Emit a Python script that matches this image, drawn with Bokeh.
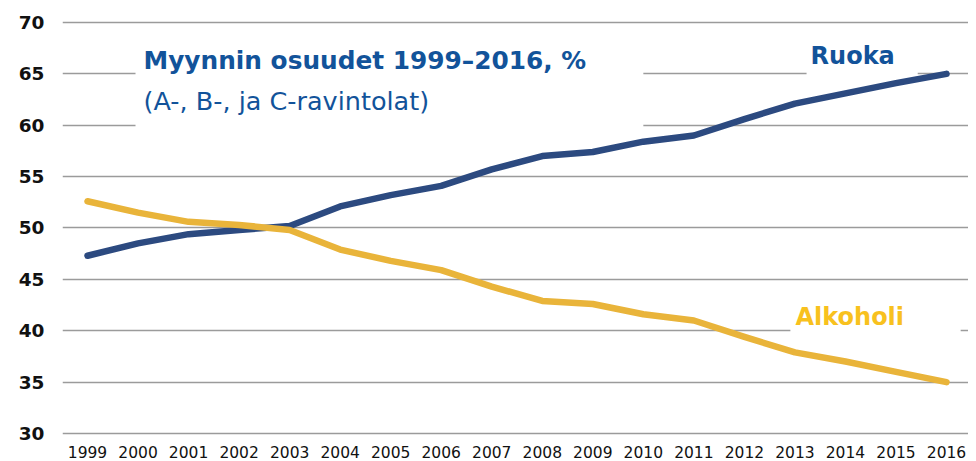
from bokeh.plotting import figure
from bokeh.models import Label, BoxAnnotation, FixedTicker, Range1d
from bokeh.embed import file_html
from bokeh.resources import INLINE

years = list(range(1999, 2017))
ruoka = [47.3, 48.5, 49.4, 49.8, 50.2, 52.1, 53.2, 54.1, 55.7, 57.0, 57.4, 58.4, 59.0, 60.6, 62.1, 63.1, 64.1, 65.0]
alkoholi = [52.6, 51.5, 50.6, 50.3, 49.8, 47.9, 46.8, 45.9, 44.3, 42.9, 42.6, 41.6, 41.0, 39.4, 37.9, 37.0, 36.0, 35.0]
y_ticks = [30, 35, 40, 45, 50, 55, 60, 65, 70]

title_text = "Myynnin osuudet 1999–2016, %"
subtitle_text = "(A-, B-, ja C-ravintolat)"
ruoka_label = "Ruoka"
alkoholi_label = "Alkoholi"

FONT = "DejaVu Sans"

p = figure(
    frame_width=906, frame_height=423,
    x_range=Range1d(1998.505, 2016.435),
    y_range=Range1d(29.513, 70.681),
    output_backend="svg", toolbar_location=None,
    min_border_left=62, min_border_right=0, min_border_top=15, min_border_bottom=0,
)
p.outline_line_color = None
p.background_fill_color = "white"
p.border_fill_color = "white"

p.xgrid.visible = False
p.ygrid.grid_line_color = "#9b9b9b"
p.ygrid.grid_line_width = 1.3
p.ygrid.ticker = FixedTicker(ticks=y_ticks)

p.yaxis.ticker = FixedTicker(ticks=y_ticks)
p.xaxis.ticker = FixedTicker(ticks=years)
for ax in (p.xaxis, p.yaxis):
    ax.axis_line_color = None
    ax.major_tick_line_color = None
    ax.minor_tick_line_color = None
    ax.major_tick_out = 0
    ax.major_tick_in = 0
    ax.major_label_text_color = "#111111"
    ax.major_label_text_font = FONT
p.yaxis.major_label_text_font_size = "18.5px"
p.yaxis.major_label_text_font_style = "bold"
p.yaxis.major_label_standoff = 18
p.xaxis.major_label_text_font_size = "15.5px"
p.xaxis.major_label_standoff = 7

# white boxes behind texts (interrupting grid lines)
for l, r, b, t in [(1999.95, 2010.0, 58.5, 68.5), (2013.23, 2015.43, 64.6, 67.5), (2012.91, 2016.28, 39.3, 41.5)]:
    p.add_layout(BoxAnnotation(left=l, right=r, bottom=b, top=t, fill_color="white", fill_alpha=1.0,
                               line_alpha=0, level="underlay"))

p.line(years, ruoka, line_color="#2c4a80", line_width=6.5, line_cap="round", line_join="round")
p.line(years, alkoholi, line_color="#e9b43a", line_width=6.5, line_cap="round", line_join="round")

p.add_layout(Label(x=2000.108, y=66.3, text=title_text, text_font=FONT, text_font_size="24.8px",
                   text_font_style="bold", text_color="#12539a", text_baseline="alphabetic"))
p.add_layout(Label(x=2000.108, y=62.4, text=subtitle_text, text_font=FONT, text_font_size="25.5px",
                   text_color="#12539a", text_baseline="alphabetic"))
p.add_layout(Label(x=2013.31, y=66.78, text=ruoka_label, text_font=FONT, text_font_size="24px",
                   text_font_style="bold", text_color="#12539a", text_baseline="alphabetic"))
p.add_layout(Label(x=2013.01, y=41.29, text=alkoholi_label, text_font=FONT, text_font_size="24px",
                   text_font_style="bold", text_color="#f8c11e", text_baseline="alphabetic"))

open("out.html", "w").write(file_html(p, INLINE))
